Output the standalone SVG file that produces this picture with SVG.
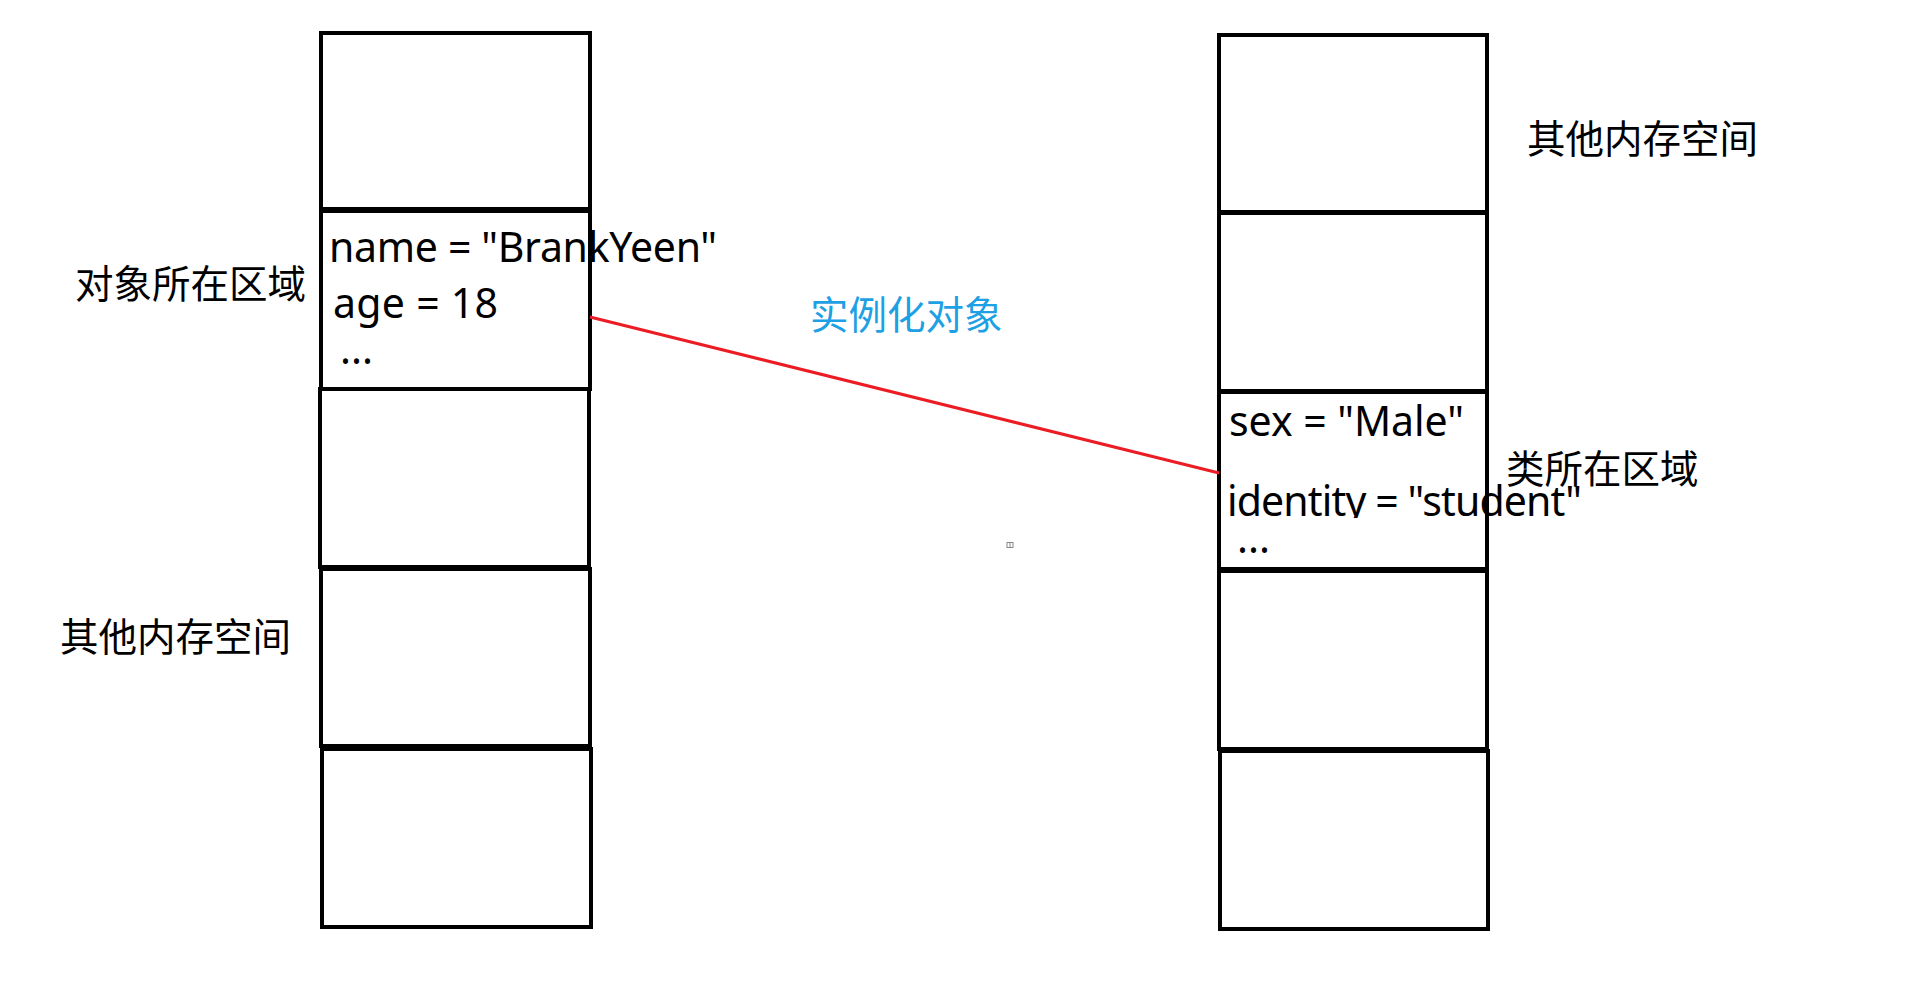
<svg xmlns="http://www.w3.org/2000/svg" width="1912" height="985" viewBox="0 0 1912 985">
  <style>
    .box { fill: #ffffff; stroke: #000000; stroke-width: 4; }
    .code { font-family: "Noto Sans", "Noto Sans CJK SC", sans-serif; font-size: 41px; fill: #000000; }
    .label { font-family: "Noto Sans CJK SC", "Noto Sans", sans-serif; font-size: 38.5px; fill: #000000; }
    .blue { fill: #1ea0e4; }
    .link { stroke: #ec1c24; stroke-width: 3; fill: none; }
  </style>
  <defs>
    <clipPath id="clipIdentity">
      <rect x="1200" y="480" width="420" height="38"/>
    </clipPath>
  </defs>
  <rect width="1912" height="985" fill="#ffffff"/>

  <g id="left-stack">
    <rect class="box" x="321" y="33" width="269" height="176"/>
    <rect class="box" x="321" y="211" width="269" height="178"/>
    <rect class="box" x="320" y="389" width="269" height="178"/>
    <rect class="box" x="321" y="569" width="269" height="177"/>
    <rect class="box" x="322" y="749" width="269" height="178"/>
  </g>

  <g id="right-stack">
    <rect class="box" x="1219" y="35" width="268" height="177"/>
    <rect class="box" x="1219" y="213" width="268" height="178"/>
    <rect class="box" x="1219" y="392" width="268" height="177"/>
    <rect class="box" x="1219" y="571" width="268" height="178"/>
    <rect class="box" x="1220" y="751" width="268" height="178"/>
  </g>

  <g id="connectors">
    <line class="link" x1="590" y1="317" x2="1219" y2="473"/>
  </g>

  <g id="object-fields">
    <text class="code" x="329" y="262" textLength="388" lengthAdjust="spacing">name = "BrankYeen"</text>
    <text class="code" x="333" y="318" textLength="165" lengthAdjust="spacing">age = 18</text>
    <text class="code" x="340" y="364">...</text>
  </g>

  <g id="class-fields">
    <text class="code" x="1229" y="436" textLength="235" lengthAdjust="spacing">sex = "Male"</text>
    <text class="code" x="1227" y="516" textLength="355" lengthAdjust="spacing" clip-path="url(#clipIdentity)">identity = "student"</text>
    <text class="code" x="1237" y="553">...</text>
  </g>

  <g id="label-object-area">
    <text class="label" x="75" y="298">对象所在区域</text>
  </g>
  <g id="label-other-left">
    <text class="label" x="60" y="651">其他内存空间</text>
  </g>
  <g id="label-instantiate">
    <text class="label blue" x="810" y="329">实例化对象</text>
  </g>
  <g id="label-other-right">
    <text class="label" x="1527" y="153">其他内存空间</text>
  </g>
  <g id="label-class-area">
    <text class="label" x="1506" y="483">类所在区域</text>
  </g>

  <g id="artifact">
    <rect x="1007" y="542.5" width="6" height="5" fill="none" stroke="#888888" stroke-width="1"/>
    <line x1="1010" y1="542.5" x2="1010" y2="547.5" stroke="#888888" stroke-width="1"/>
  </g>
</svg>
